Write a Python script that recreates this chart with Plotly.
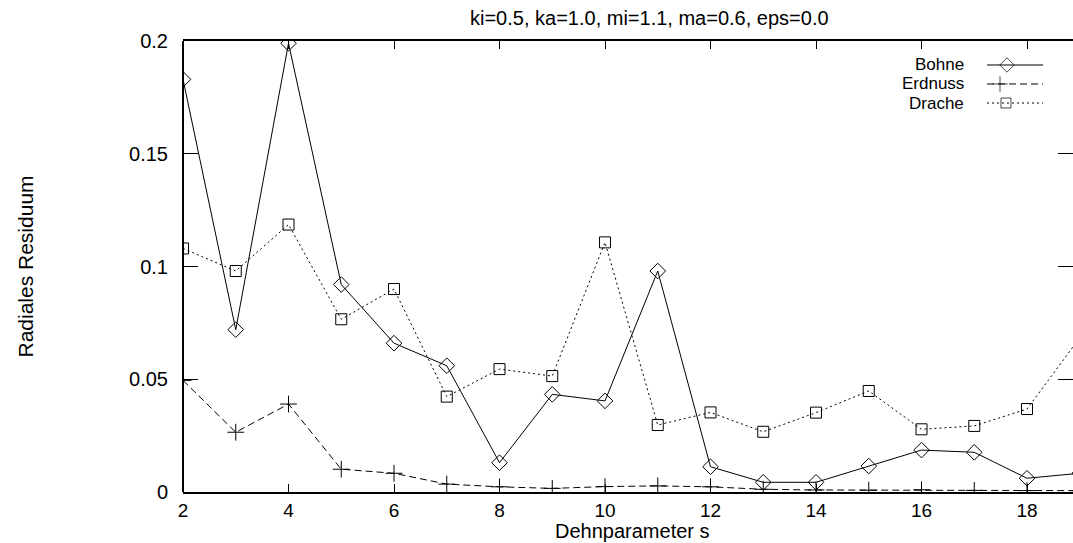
import plotly.graph_objects as go

# ---- data ----
s_values = [2, 3, 4, 5, 6, 7, 8, 9, 10, 11, 12, 13, 14, 15, 16, 17, 18, 19]
bohne = [0.183, 0.072, 0.199, 0.092, 0.066, 0.056, 0.013, 0.0433, 0.0404, 0.098,
         0.0112, 0.0043, 0.0043, 0.0115, 0.0186, 0.0176, 0.0061, 0.0083]
erdnuss = [0.0495, 0.0265, 0.039, 0.0101, 0.0083, 0.0035, 0.0023, 0.0016, 0.0024, 0.0027,
           0.0023, 0.0012, 0.0009, 0.0008, 0.001, 0.0007, 0.0006, 0.0006]
drache = [0.108, 0.098, 0.1186, 0.0766, 0.090, 0.0423, 0.0545, 0.0514, 0.1107, 0.0297,
          0.0353, 0.0267, 0.0352, 0.0448, 0.0278, 0.0293, 0.0368, 0.0684]
series_names = ["Bohne", "Erdnuss", "Drache"]
x_tickvals = [2, 4, 6, 8, 10, 12, 14, 16, 18]
y_tickvals = [0, 0.05, 0.1, 0.15, 0.2]
y_ticktext = ["0", "0.05", "0.1", "0.15", "0.2"]
title_text = "ki=0.5, ka=1.0, mi=1.1, ma=0.6, eps=0.0"
x_title = "Dehnparameter s"
y_title = "Radiales Residuum"

FONT = "Liberation Sans, Arial, Helvetica, sans-serif"

styles = [
    dict(dash="solid", symbol="diamond-open", size=12),
    dict(dash="7px,4px", symbol="cross-thin-open", size=12),
    dict(dash="2px,3px", symbol="square-open", size=11),
]

fig = go.Figure()
for name, ys, st in zip(series_names, [bohne, erdnuss, drache], styles):
    fig.add_trace(go.Scatter(
        x=s_values, y=ys, mode="lines+markers", name=name, showlegend=False,
        line=dict(color="black", width=1, dash=st["dash"]),
        marker=dict(symbol=st["symbol"], size=st["size"], color="black",
                    line=dict(color="black", width=1)),
        cliponaxis=True,
    ))

# manual legend (text left of sample, as in the original)
leg_text_x = 0.8798
leg_y = [0.9468, 0.9047, 0.8625]
leg_line = [0.9034, 0.9663]
leg_mark = [0.9258, 0.918, 0.9247]
for name, st, ly, lm in zip(series_names, styles, leg_y, leg_mark):
    fig.add_trace(go.Scatter(
        x=[leg_line[0], lm, leg_line[1]], y=[ly, ly, ly],
        xaxis="x2", yaxis="y2", mode="lines+markers", showlegend=False,
        line=dict(color="black", width=1, dash=st["dash"]),
        marker=dict(symbol=st["symbol"], size=[0, st["size"] - 1, 0], color="black",
                    line=dict(color="black", width=1)),
        hoverinfo="skip",
    ))
    fig.add_annotation(x=leg_text_x, y=ly, xref="paper", yref="paper",
                       text=name, showarrow=False, xanchor="right", yanchor="middle",
                       font=dict(family=FONT, size=17, color="black"))

fig.add_annotation(x=0.5247, y=1.051, xref="paper", yref="paper", text=title_text,
                   showarrow=False, xanchor="center", yanchor="middle",
                   font=dict(family=FONT, size=20, color="black"))
fig.add_annotation(x=0.5056, y=-0.0875, xref="paper", yref="paper", text=x_title,
                   showarrow=False, xanchor="center", yanchor="middle",
                   font=dict(family=FONT, size=20, color="black"))
fig.add_annotation(x=-0.1775, y=0.5, xref="paper", yref="paper", text=y_title,
                   showarrow=False, xanchor="center", yanchor="middle", textangle=-90,
                   font=dict(family=FONT, size=21, color="black"))

# left axis line (right border lies outside the visible window)
fig.add_shape(type="line", xref="paper", yref="paper", x0=0, x1=0, y0=0, y1=1,
              line=dict(color="black", width=2))

fig.update_layout(
    width=1073, height=543, autosize=False,
    margin=dict(l=183, r=0, t=41, b=51, pad=0),
    paper_bgcolor="white", plot_bgcolor="white",
    font=dict(family=FONT, size=20, color="black"),
    xaxis=dict(range=[2, 18.872], tickvals=x_tickvals, ticks="inside", ticklen=8,
               tickwidth=1, tickcolor="black", showline=True, linecolor="black",
               linewidth=2, mirror="ticks", showgrid=False, zeroline=False,
               tickfont=dict(family=FONT, size=19)),
    yaxis=dict(range=[0, 0.2], tickvals=y_tickvals, ticktext=y_ticktext,
               ticks="inside", ticklen=15, tickwidth=1, tickcolor="black",
               showline=False, mirror="ticks", showgrid=False, zeroline=False,
               ticklabelstandoff=14, tickfont=dict(family=FONT, size=20)),
    xaxis2=dict(range=[0, 1], overlaying="x", visible=False, fixedrange=True),
    yaxis2=dict(range=[0, 1], overlaying="y", visible=False, fixedrange=True),
)

fig.write_html("out.html")
